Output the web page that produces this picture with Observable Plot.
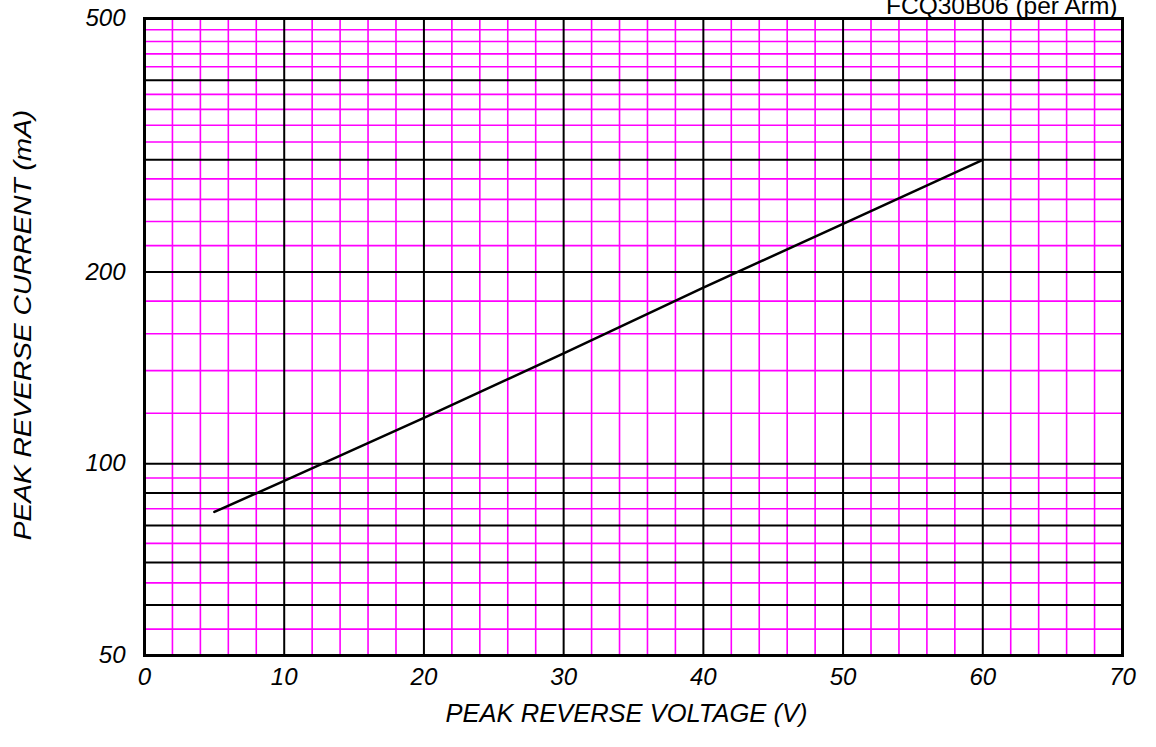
<!DOCTYPE html>
<html>
<head>
<meta charset="utf-8">
<script src="https://cdn.jsdelivr.net/npm/d3@7"></script>
<script src="https://cdn.jsdelivr.net/npm/@observablehq/plot@0.6"></script>
<style>
  html, body { margin: 0; padding: 0; background: #fff; }
  #chart svg { display: block; overflow: visible; }
</style>
</head>
<body>
<div id="chart"></div>
<script>
// Data
const voltage = [5, 10, 20, 30, 40, 50, 60];           // V
const current = [84, 94, 118, 149, 189, 238, 300];     // mA

const xTicks = [0, 10, 20, 30, 40, 50, 60, 70];
const yTicks = [50, 100, 200, 500];

const xMajorGrid = [10, 20, 30, 40, 50, 60];
const xMinorGrid = [2, 4, 6, 8, 12, 14, 16, 18, 22, 24, 26, 28, 32, 34, 36, 38,
                    42, 44, 46, 48, 52, 54, 56, 58, 62, 64, 66, 68];
const yMajorGrid = [60, 70, 80, 90, 100, 200, 300, 400];
const yMinorGrid = [55, 65, 75, 85, 95, 120, 140, 160, 180, 220, 240, 260, 280,
                    320, 340, 360, 380, 420, 440, 460, 480];

const title = "FCQ30B06 (per Arm)";
const xLabel = "PEAK REVERSE VOLTAGE (V)";
const yLabel = "PEAK REVERSE CURRENT (mA)";

const data = voltage.map((v, i) => ({v, c: current[i]}));

const font = "Liberation Sans, Arial, Helvetica, sans-serif";

const chart = Plot.plot({
  width: 1156,
  height: 747,
  marginLeft: 144,
  marginRight: 34,
  marginTop: 18,
  marginBottom: 92,
  style: {fontFamily: font, background: "#fff", overflow: "visible"},
  x: {type: "linear", domain: [0, 70]},
  y: {type: "log", domain: [50, 500]},
  marks: [
    Plot.ruleX(xMinorGrid, {stroke: "#ff00ff", strokeWidth: 1.6}),
    Plot.ruleY(yMinorGrid, {stroke: "#ff00ff", strokeWidth: 1.6}),
    Plot.ruleX(xMajorGrid, {stroke: "#000", strokeWidth: 2}),
    Plot.ruleY(yMajorGrid, {stroke: "#000", strokeWidth: 2}),
    Plot.frame({stroke: "#000", strokeWidth: 3}),
    Plot.line(data, {x: "v", y: "c", stroke: "#000", strokeWidth: 2.5}),
    Plot.axisX({ticks: xTicks, tickSize: 0, tickPadding: 12, fontSize: 24, fontStyle: "italic",
                tickFormat: d => String(d), label: null, fill: "#000"}),
    Plot.axisY({ticks: yTicks, tickSize: 0, tickPadding: 19, fontSize: 24, fontStyle: "italic",
                tickFormat: d => String(d), label: null, fill: "#000"}),
    Plot.text([xLabel], {frameAnchor: "bottom", dy: 58, dx: -7, fontSize: 25.5, fontStyle: "italic",
                         fill: "#000", textAnchor: "middle", lineAnchor: "middle"}),
    Plot.text([yLabel], {frameAnchor: "left", dx: -121, dy: -12, rotate: -90, fontSize: 24,
                         fontStyle: "italic", fill: "#000", textAnchor: "middle", lineAnchor: "middle"}),
    Plot.text([title], {frameAnchor: "top-right", dx: -5, dy: -5, fontSize: 24.5, fill: "#000",
                        textAnchor: "end", lineAnchor: "bottom"})
  ]
});

// The reference's vertical label is drawn stretched along its length
d3.select(chart).selectAll("text").each(function () {
  if (this.textContent === yLabel) {
    const t = this.getAttribute("transform") || "";
    this.setAttribute("transform", t + " scale(1.17,1)");
  }
});

document.getElementById("chart").appendChild(chart);
</script>
</body>
</html>
